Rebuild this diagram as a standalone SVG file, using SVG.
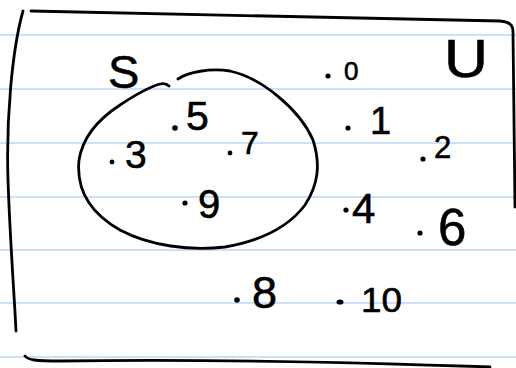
<svg xmlns="http://www.w3.org/2000/svg" width="516" height="368" viewBox="0 0 516 368">
<style>
.rule{stroke:#cbe0fa;stroke-width:2}
.ink{fill:none;stroke:#000;stroke-width:2.8;stroke-linecap:round;stroke-linejoin:round}
.dot{fill:#000}
.t{font-family:"Liberation Sans","DejaVu Sans",sans-serif;fill:#000;stroke:#000;stroke-width:0.6}
</style>
<rect width="516" height="368" fill="#fff"/>
<g id="paper-lines">
<line class="rule" x1="0" y1="35" x2="516" y2="35"/>
<line class="rule" x1="0" y1="89" x2="516" y2="89"/>
<line class="rule" x1="0" y1="143" x2="516" y2="143"/>
<line class="rule" x1="0" y1="197" x2="516" y2="197"/>
<line class="rule" x1="0" y1="250" x2="516" y2="250"/>
<line class="rule" x1="0" y1="303" x2="516" y2="303"/>
<line class="rule" x1="0" y1="357" x2="516" y2="357"/>
</g>
<g id="universe">
<path class="ink" d="M31,11 C120,13 300,17 500,21 C510,22 513,25 513,32 L515,207"/>
<path class="ink" d="M23,11 C12,50 6,120 8,180 C10,240 14,290 16,331"/>
<path class="ink" d="M25,356 C28,360 35,361 60,361 C200,359 350,362 490,367"/>
<text class="t" x="444" y="77" font-size="54" textLength="44" lengthAdjust="spacingAndGlyphs">U</text>
</g>
<g id="set-S">
<path class="ink" d="M178,79 C188,72 210,68 230,71 C262,78 300,110 313,140 C321,165 318,185 305,205 C290,225 265,240 225,247 C190,251 150,246 120,230 C90,213 76,190 79,160 C83,135 100,118 120,105 C135,95 150,87 160,84 C164,83 167,84 169,86"/>
<text class="t" x="108" y="88" font-size="47">S</text>
</g>
<g id="elements">
<g id="el-0"><circle class="dot" cx="328" cy="76" r="2.6"/><text class="t" x="344" y="80" font-size="26">0</text></g>
<g id="el-1"><circle class="dot" cx="348" cy="128" r="2.6"/><text class="t" x="370" y="134" font-size="38">1</text></g>
<g id="el-2"><circle class="dot" cx="423" cy="159" r="2.6"/><text class="t" x="434" y="158" font-size="31">2</text></g>
<g id="el-3"><circle class="dot" cx="112" cy="162" r="2.4"/><text class="t" x="125" y="168" font-size="39">3</text></g>
<g id="el-4"><circle class="dot" cx="346" cy="210" r="2.6"/><text class="t" x="352" y="223" font-size="42">4</text></g>
<g id="el-5"><circle class="dot" cx="175" cy="128" r="2.8"/><text class="t" x="186" y="130" font-size="41">5</text></g>
<g id="el-6"><circle class="dot" cx="420" cy="233" r="2.6"/><text class="t" x="438" y="245" font-size="51">6</text></g>
<g id="el-7"><circle class="dot" cx="230" cy="153" r="2.4"/><text class="t" x="241" y="154" font-size="32">7</text></g>
<g id="el-8"><circle class="dot" cx="237" cy="300" r="2.8"/><text class="t" x="252" y="308" font-size="45">8</text></g>
<g id="el-9"><circle class="dot" cx="185" cy="203" r="2.6"/><text class="t" x="198" y="218" font-size="40">9</text></g>
<g id="el-10"><ellipse class="dot" cx="340" cy="302" rx="3.5" ry="2.6"/><text class="t" x="361" y="312" font-size="35" textLength="41" lengthAdjust="spacingAndGlyphs">10</text></g>
</g>
</svg>
